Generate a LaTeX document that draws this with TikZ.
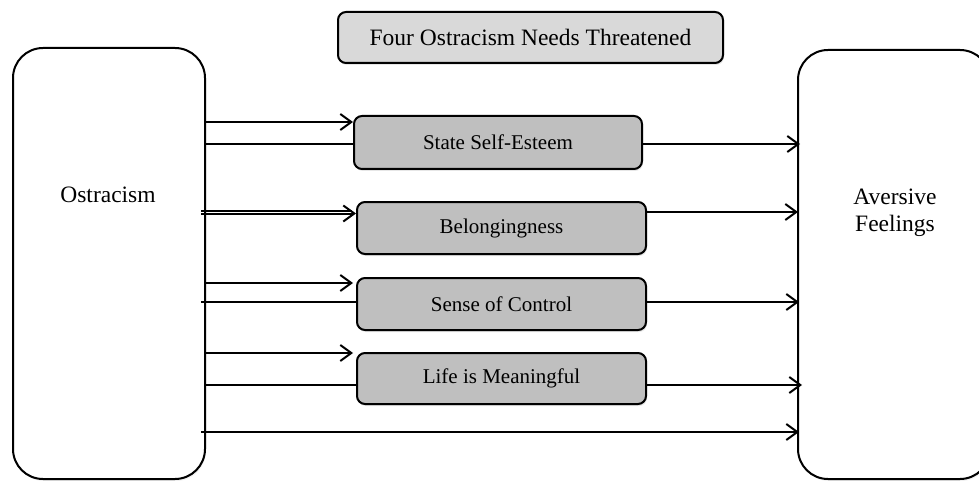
\documentclass[tikz,border=0pt]{standalone}
\usepackage{fontspec}
\setmainfont{Liberation Serif}
\usetikzlibrary{arrows.meta,shadows}
\definecolor{titlegray}{HTML}{D9D9D9}
\definecolor{boxgray}{HTML}{BFBFBF}
\tikzset{
  bigbox/.style={draw=black, line width=2pt, fill=white, rounded corners=30pt,
    drop shadow={shadow xshift=1pt, shadow yshift=-2pt, opacity=0.12}},
  titlebox/.style={draw=black, line width=2pt, fill=titlegray, rounded corners=8pt,
    minimum width=385pt, minimum height=51pt, inner sep=0pt,
    font=\fontsize{23.5}{27}\selectfont,
    drop shadow={shadow xshift=1pt, shadow yshift=-2pt, opacity=0.2}},
  needbox/.style={draw=black, line width=2pt, fill=boxgray, rounded corners=8pt,
    minimum width=289pt, minimum height=52pt, inner sep=0pt,
    font=\fontsize{21}{24}\selectfont,
    drop shadow={shadow xshift=1pt, shadow yshift=-2pt, opacity=0.2}},
  bigtext/.style={font=\fontsize{23.5}{27}\selectfont, align=center, inner sep=0pt},
  conn/.style={line width=2pt},
  arr/.style={line width=2pt, -{Straight Barb[length=11pt,width=16pt,line width=2pt]}},
}
\begin{document}
\begin{tikzpicture}[x=1pt,y=-1pt]
\useasboundingbox (0,0) rectangle (979,481);
% big boxes
\node[bigbox, minimum width=192pt, minimum height=431pt] (L) at (109,263.5) {};
\node[bigbox, minimum width=192pt, minimum height=429pt] (R) at (894,264.5) {};
\node[bigtext] (Ltext) at (108,195) {Ostracism};
\node[bigtext] (Rtext) at (895,213) {Aversive\\Feelings};
% title
\node[titlebox] (T) at (530.5,37.5) {Four Ostracism Needs Threatened};
% need boxes
\node[needbox, minimum width=288pt, minimum height=53pt] (S1) at (498,142.5) {State Self-Esteem};
\node[needbox] (S2) at (501.5,228) {Belongingness};
\node[needbox] (S3) at (501.5,304) {Sense of Control};
\node[needbox, minimum height=51pt] (S4) at (501.5,378.5) {Life is Meaningful};
% y levels
\coordinate (a1) at (0,122);
\coordinate (b1) at (0,144);
\coordinate (a2) at (0,213.5);
\coordinate (a2b) at (0,211);
\coordinate (b2) at (0,212);
\coordinate (a3) at (0,283);
\coordinate (b3) at (0,302);
\coordinate (a4) at (0,353);
\coordinate (b4) at (0,385);
\coordinate (c5) at (0,432);
% left side
\draw[arr] (L.east |- a1) -- (S1.west |- a1);
\draw[conn] (L.east |- b1) -- (S1.west |- b1);
\draw[conn] ([xshift=-5pt]L.east |- a2b) -- ([xshift=-4pt]S2.west |- a2b);
\draw[arr] ([xshift=-5pt]L.east |- a2) -- (S2.west |- a2);
\draw[arr] (L.east |- a3) -- ([xshift=-3pt]S3.west |- a3);
\draw[conn] ([xshift=-5pt]L.east |- b3) -- (S3.west |- b3);
\draw[arr] (L.east |- a4) -- ([xshift=-3pt]S4.west |- a4);
\draw[conn] (L.east |- b4) -- (S4.west |- b4);
% right side
\draw[arr] (S1.east |- b1) -- ([xshift=3pt]R.west |- b1);
\draw[arr] (S2.east |- b2) -- ([xshift=1pt]R.west |- b2);
\draw[arr] (S3.east |- b3) -- ([xshift=2pt]R.west |- b3);
\draw[arr] (S4.east |- b4) -- ([xshift=5pt]R.west |- b4);
\draw[arr] ([xshift=-5pt]L.east |- c5) -- ([xshift=2pt]R.west |- c5);
\end{tikzpicture}
\end{document}
